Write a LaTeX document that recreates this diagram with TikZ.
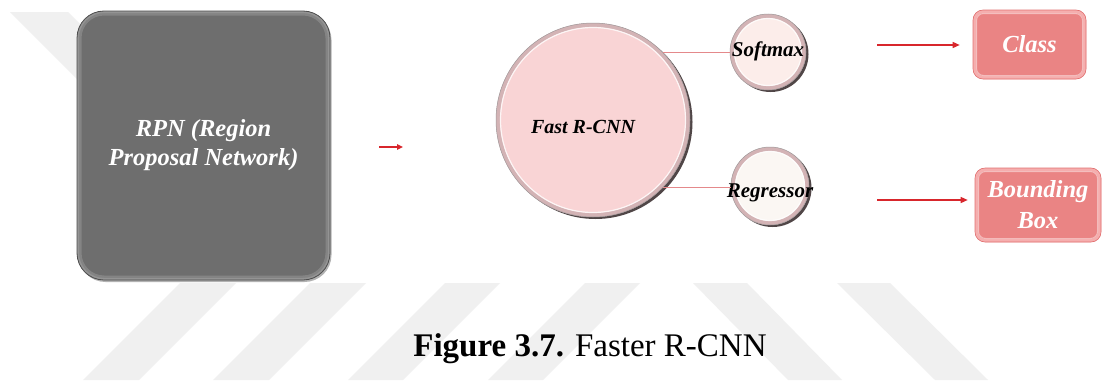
\documentclass[tikz,border=0pt]{standalone}
\usepackage{fontspec}
\setmainfont{Liberation Serif}
\usetikzlibrary{arrows.meta,calc}

\definecolor{wmark}{HTML}{F0F0F0}
\definecolor{rpnfill}{HTML}{6E6E6E}
\definecolor{rpnrim}{HTML}{A0A0A0}
\definecolor{rpnedge}{HTML}{4E4E4E}
\definecolor{fastfill}{HTML}{F9D4D5}
\definecolor{bubblerim}{HTML}{D3B3B5}
\definecolor{rimshadow}{HTML}{3E3233}
\definecolor{softfill}{HTML}{FCEDEA}
\definecolor{regfill}{HTML}{FBF7F3}
\definecolor{outfill}{HTML}{EA8484}
\definecolor{outrim}{HTML}{F5AEAE}
\definecolor{outedge}{HTML}{E27272}
\definecolor{linkred}{HTML}{E4898B}
\definecolor{arrowred}{HTML}{D8262C}

\begin{document}
\begin{tikzpicture}[x=1pt,y=-1pt,
  % dark rounded box with a soft bevelled rim
  rpnbox/.style={rectangle, rounded corners=27pt, minimum width=253pt,
    minimum height=269pt, fill=rpnfill, draw=rpnedge, line width=0.8pt,
    text=white, align=center,
    font=\fontsize{24.5}{30}\selectfont\bfseries\itshape,
    preaction={fill=black, opacity=.3,
      transform canvas={xshift=1.5pt,yshift=-2pt}},
    path picture={
      \draw[rpnrim, line width=9pt, opacity=.45, rounded corners=27pt]
        (path picture bounding box.south west) rectangle
        (path picture bounding box.north east);
      \draw[rpnrim, line width=4pt, opacity=.6, rounded corners=27pt]
        (path picture bounding box.south west) rectangle
        (path picture bounding box.north east);}},
  % glossy bubble: #1 diameter, #2 fill colour
  bubble/.style 2 args={circle, minimum size=#1, inner sep=0pt, fill=#2,
    draw=rimshadow!50, line width=.5pt,
    preaction={fill=rimshadow, opacity=.9,
      transform canvas={xshift=2.5pt,yshift=-2pt}},
    path picture={
      \draw[bubblerim, line width=8pt]
        (path picture bounding box.center) circle[radius={#1*0.5pt}];
      \draw[white, line width=1.2pt, opacity=.8]
        (path picture bounding box.center) circle[radius={#1*0.5pt-4.5pt}];}},
  bubbletext/.style={font=\fontsize{21}{24}\selectfont\bfseries\itshape,
    text=black, inner sep=0pt},
  % salmon output boxes
  outbox/.style={rectangle, rounded corners=10pt, fill=outfill,
    draw=outedge, line width=.6pt, text=white, align=center,
    font=\fontsize{24.5}{31}\selectfont\bfseries\itshape,
    path picture={
      \draw[outrim, line width=6pt, rounded corners=10pt]
        (path picture bounding box.south west) rectangle
        (path picture bounding box.north east);
      \draw[white, opacity=.45, line width=1pt, rounded corners=7pt]
        ([shift={(3.5pt,3.5pt)}]path picture bounding box.south west) rectangle
        ([shift={(-3.5pt,-3.5pt)}]path picture bounding box.north east);}},
  link/.style={linkred, line width=1.4pt},
  flow/.style={arrowred, line width=1.3pt,
    -{Triangle[length=7pt,width=6pt]}},
  stripe/.style={fill=wmark, draw=none}
]
\useasboundingbox (0,0) rectangle (1102,380);
\fill[white] (0,0) rectangle (1102,380);

% faint diagonal background bands
\fill[stripe] (10,12) -- (68,12) -- (150,94) -- (92,94) -- cycle;
\fill[stripe] (180,283) -- (236,283) -- (139,380) -- (83,380) -- cycle;
\fill[stripe] (310,283) -- (366,283) -- (269,380) -- (213,380) -- cycle;
\fill[stripe] (445,283) -- (500,283) -- (403,380) -- (348,380) -- cycle;
\fill[stripe] (585,283) -- (640,283) -- (543,380) -- (488,380) -- cycle;
\fill[stripe] (693,283) -- (747,283) -- (842,380) -- (788,380) -- cycle;
\fill[stripe] (837,283) -- (890,283) -- (988,380) -- (935,380) -- cycle;

% main blocks
\node[rpnbox] (rpn) at (203.5,145.5) {RPN (Region\\[-1pt]Proposal Network)};

\node[bubble={194pt}{fastfill},
  label={[font=\fontsize{20}{24}\selectfont\bfseries\itshape, text=black,
    xshift=-10pt, yshift=-7pt]center:Fast R-CNN}] (fast) at (593,120) {};

\node[bubble={76pt}{softfill},
  label={[bubbletext, yshift=1pt]center:Softmax}] (soft) at (768,52) {};
\node[bubble={78pt}{regfill},
  label={[bubbletext, yshift=-7pt]center:Regressor}] (reg) at (770,186) {};

\node[outbox, minimum width=113pt, minimum height=69pt] (class)
  at (1029.5,44.5) {Class};
\node[outbox, minimum width=126pt, minimum height=74pt] (bbox)
  at (1038,205) {Bounding\\Box};

% connectors
\coordinate (rpnout) at (379,147);
\coordinate (fastin) at (403,147);
\draw[flow, line width=1.3pt, -{Triangle[length=6pt,width=5.5pt]}]
  (rpnout) -- (fastin);

\draw[link] (fast.44) -- (fast.44 -| soft.west);
\draw[link] (fast.-44) -- (fast.-44 -| reg.west);

\coordinate (clsfrom) at (877,45);
\coordinate (boxfrom) at (877,200);
\draw[flow, shorten >=13pt] (clsfrom) -- (clsfrom -| class.west);
\draw[flow, shorten >=7pt] (boxfrom) -- (boxfrom -| bbox.west);

% caption
\node[font=\normalfont\fontsize{33}{36}\selectfont, anchor=base, inner sep=0pt]
  (caption) at (590,356) {\textbf{Figure 3.7.} Faster R-CNN};
\end{tikzpicture}
\end{document}
